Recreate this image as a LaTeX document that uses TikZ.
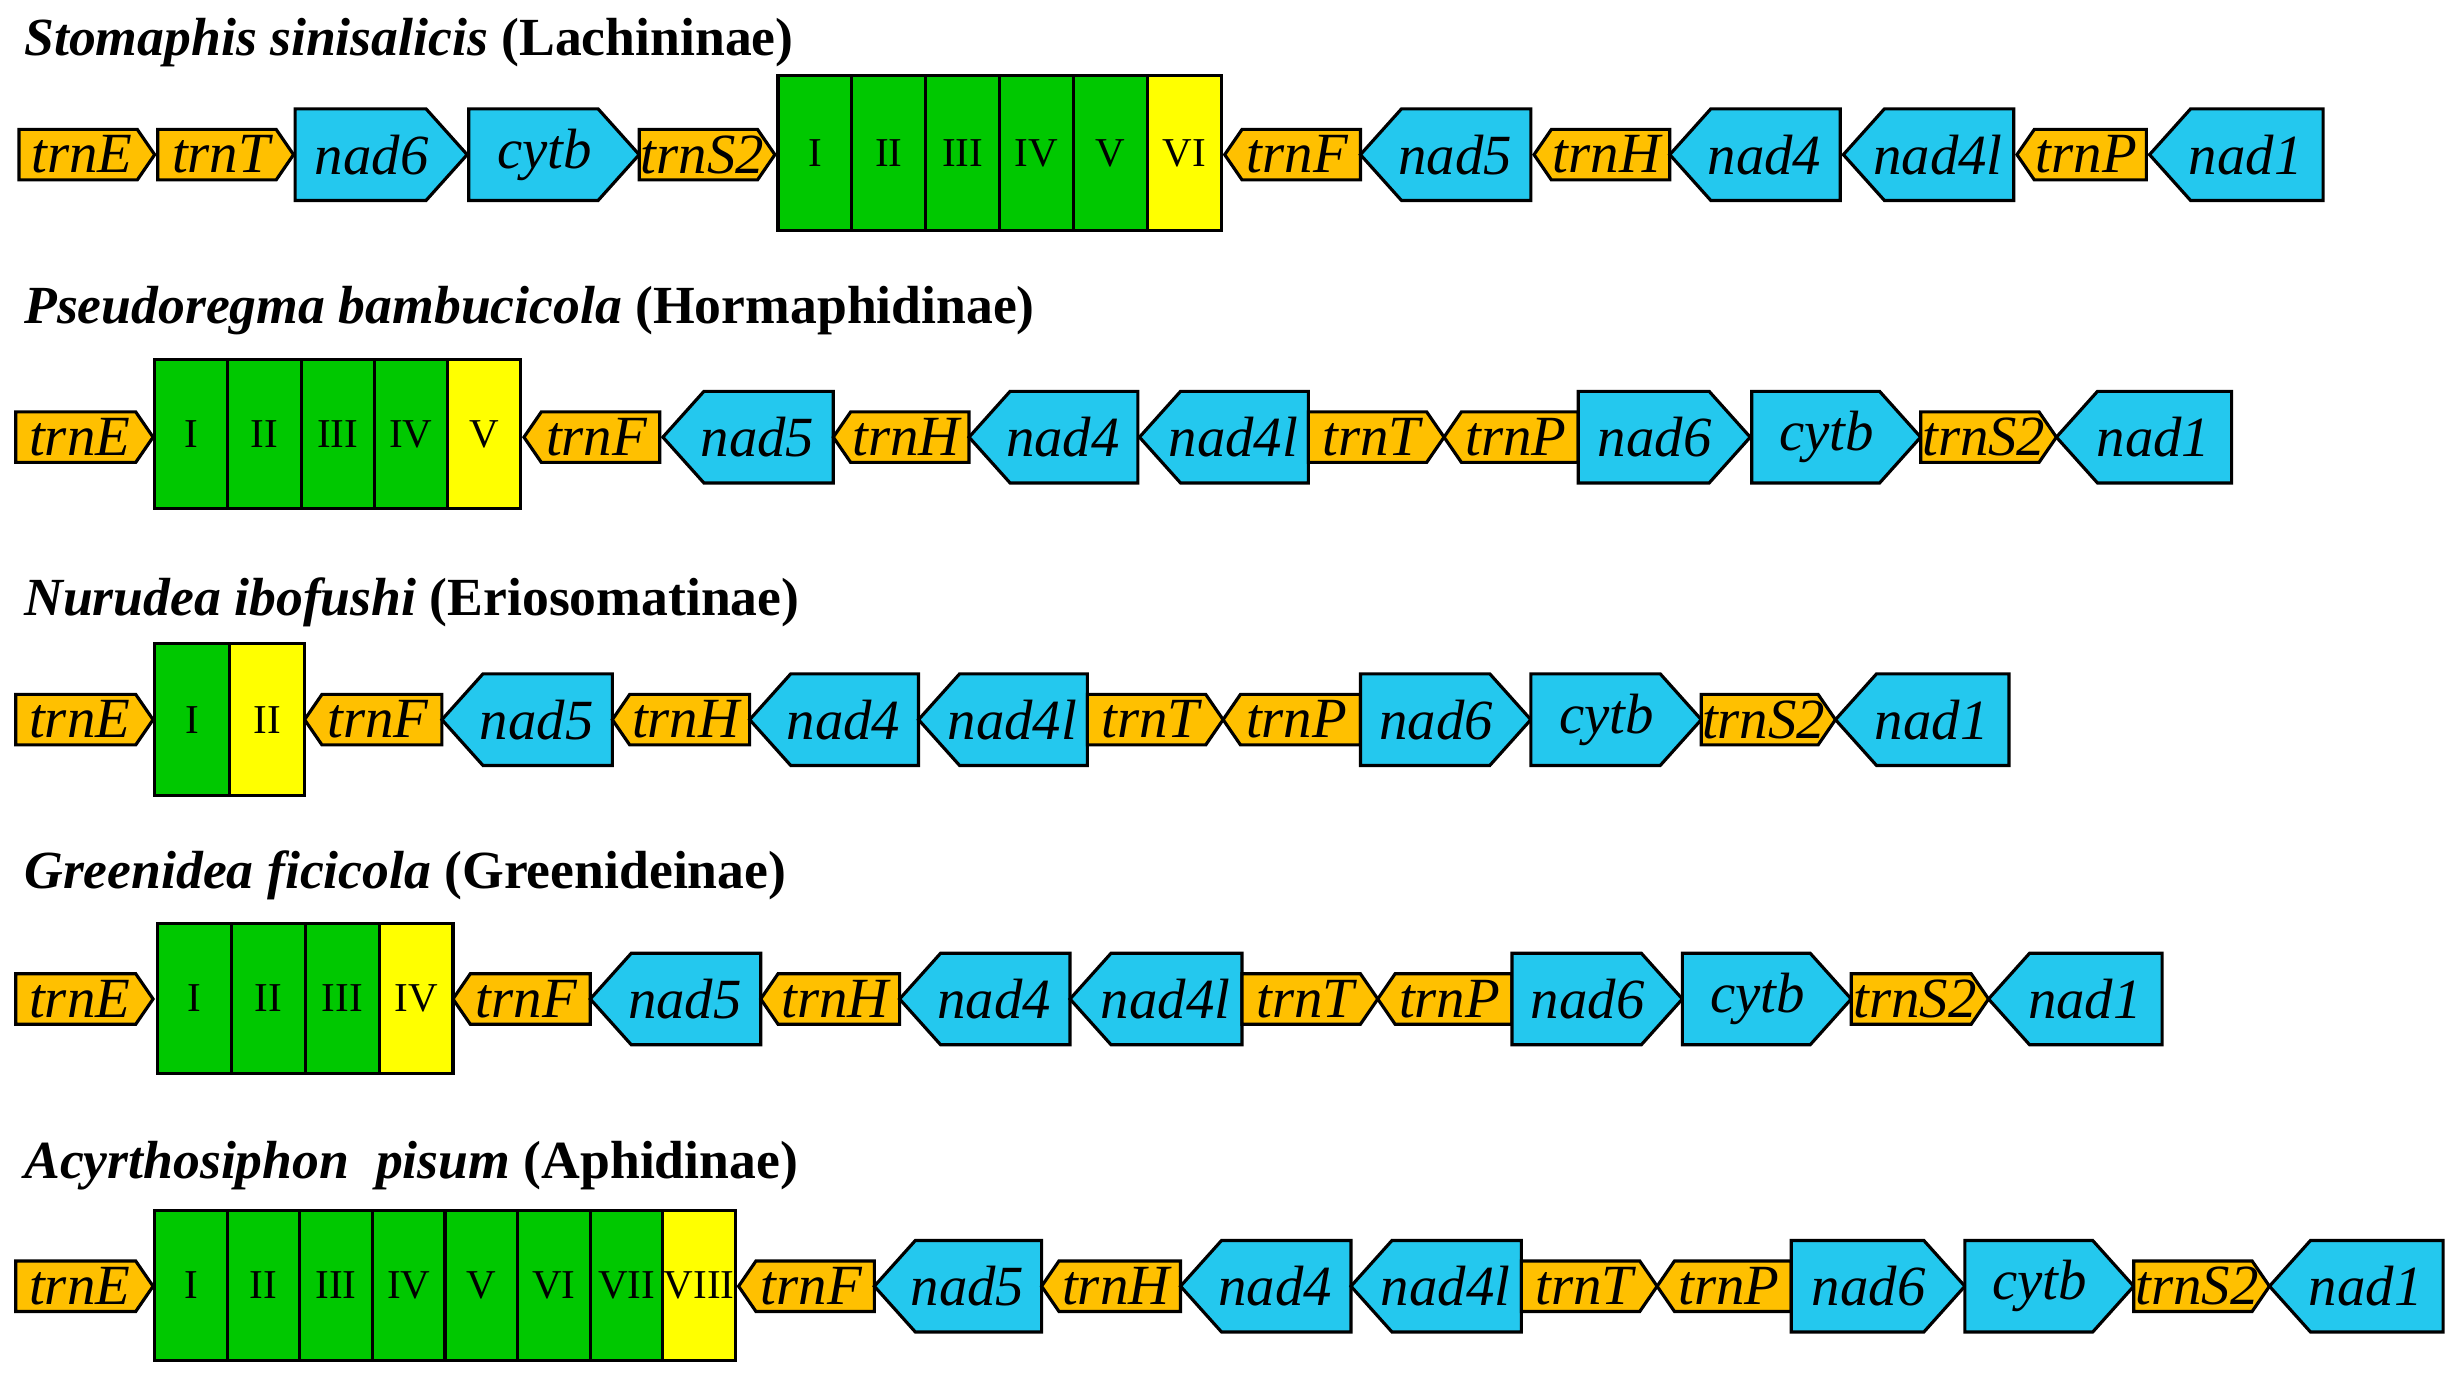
\documentclass[tikz,border=0pt]{standalone}
\usepackage{fontspec}
\setmainfont{Liberation Serif}
\usepackage{tikz}

\definecolor{trnorange}{RGB}{255,192,0}
\definecolor{pcgblue}{RGB}{36,200,238}
\definecolor{cagreen}{RGB}{0,200,0}
\definecolor{cayellow}{RGB}{255,255,0}

\tikzset{
  trna/.style={draw=black, line width=1pt, fill=trnorange},
  pcg/.style={draw=black, line width=1pt, fill=pcgblue},
  rep/.style={draw=black, line width=1pt},
  glab/.style={inner sep=0pt, font=\fontsize{18}{18}\selectfont\itshape},
  rlab/.style={inner sep=0pt, font=\fontsize{13}{13}\selectfont},
  title/.style={anchor=base west, inner sep=0pt, font=\fontsize{17}{17}\selectfont\bfseries}
}

% gene macros: name, x0, x1, y, label
\newcommand{\geneTR}[5]{%
  \draw[trna] (#2,#4-16) -- (#3-11,#4-16) -- (#3,#4) -- (#3-11,#4+16) -- (#2,#4+16) -- cycle;
  \node[glab] (#1) at ({(#2+#3)/2-3},#4) {#5};}
\newcommand{\geneTL}[5]{%
  \draw[trna] (#3,#4-16) -- (#2+11,#4-16) -- (#2,#4) -- (#2+11,#4+16) -- (#3,#4+16) -- cycle;
  \node[glab] (#1) at ({(#2+#3)/2+3},#4) {#5};}
\newcommand{\genePR}[5]{%
  \draw[pcg] (#2,#4-29) -- (#3-26,#4-29) -- (#3,#4) -- (#3-26,#4+29) -- (#2,#4+29) -- cycle;
  \node[glab] (#1) at ({(#2+#3)/2-6},#4) {#5};}
\newcommand{\genePL}[5]{%
  \draw[pcg] (#3,#4-29) -- (#2+26,#4-29) -- (#2,#4) -- (#2+26,#4+29) -- (#3,#4+29) -- cycle;
  \node[glab] (#1) at ({(#2+#3)/2+6},#4) {#5};}
% repeat block: prefix, x0, cell width, y top, y bottom, number of green cells, numerals
\newcommand{\repblock}[7]{%
  \foreach \r [count=\i] in {#7} {
    \pgfmathsetmacro{\xa}{#2+(\i-1)*#3}
    \pgfmathsetmacro{\xb}{#2+\i*#3}
    \ifnum\i>#6 \def\cc{cayellow}\else\def\cc{cagreen}\fi
    \draw[rep, fill=\cc] (\xa,#4) rectangle (\xb,#5);
    \node[rlab] (#1-\i) at ({(\xa+\xb)/2},{(#4+#5)/2}) {\r};
  }}

\begin{document}
\begin{tikzpicture}[x={0.5pt}, y={-0.5pt}]
  \useasboundingbox (0,0) rectangle (1560,871);

  % Stomaphis
  \node[title] (t1) at (15,35) {\textit{Stomaphis sinisalicis} (Lachininae)};
  \foreach \n/\a/\b/\f/\t in {e/12/98/TR/trnE, t/100/186/TR/trnT, n6/187/296/PR/nad6,
      cb/297/405/PR/cytb, s2/405/491/TR/trnS2, f/776/862/TL/trnF, n5/862/970/PL/nad5,
      h/972/1058/TL/trnH, n4/1058/1166/PL/nad4, n4l/1168/1276/PL/nad4l,
      p/1278/1360/TL/trnP, n1/1362/1472/PL/nad1}
    {\csname gene\f\endcsname{r1-\n}{\a}{\b}{98}{\t}}
  \repblock{r1-cr}{493}{46.8}{48}{146}{5}{I,II,III,IV,V,VI}

  % Pseudoregma
  \node[title] (t2) at (15,205) {\textit{Pseudoregma bambucicola} (Hormaphidinae)};
  \foreach \n/\a/\b/\f/\t in {e/10/97/TR/trnE, f/332/418/TL/trnF, n5/420/528/PL/nad5,
      h/528/614/TL/trnH, n4/614/721/PL/nad4, n4l/722/829/PL/nad4l, t/829/915/TR/trnT,
      p/915/1000/TL/trnP, n6/1000/1109/PR/nad6, cb/1110/1217/PR/cytb,
      s2/1217/1303/TR/trnS2, n1/1303/1414/PL/nad1}
    {\csname gene\f\endcsname{r2-\n}{\a}{\b}{277}{\t}}
  \repblock{r2-cr}{98}{46.4}{228}{322}{4}{I,II,III,IV,V}

  % Nurudea
  \node[title] (t3) at (15,390) {\textit{Nurudea ibofushi} (Eriosomatinae)};
  \foreach \n/\a/\b/\f/\t in {e/10/97/TR/trnE, f/193/280/TL/trnF, n5/280/388/PL/nad5,
      h/388/475/TL/trnH, n4/475/582/PL/nad4, n4l/582/689/PL/nad4l, t/689/775/TR/trnT,
      p/775/862/TL/trnP, n6/862/970/PR/nad6, cb/970/1078/PR/cytb,
      s2/1078/1163/TR/trnS2, n1/1163/1273/PL/nad1}
    {\csname gene\f\endcsname{r3-\n}{\a}{\b}{456}{\t}}
  \repblock{r3-cr}{98}{47.5}{408}{504}{1}{I,II}

  % Greenidea
  \node[title] (t4) at (15,563) {\textit{Greenidea ficicola} (Greenideinae)};
  \foreach \n/\a/\b/\f/\t in {e/10/97/TR/trnE, f/287/374/TL/trnF, n5/374/482/PL/nad5,
      h/482/570/TL/trnH, n4/570/678/PL/nad4, n4l/678/787/PL/nad4l, t/787/873/TR/trnT,
      p/873/958/TL/trnP, n6/958/1066/PR/nad6, cb/1066/1173/PR/cytb,
      s2/1173/1260/TR/trnS2, n1/1260/1370/PL/nad1}
    {\csname gene\f\endcsname{r4-\n}{\a}{\b}{633}{\t}}
  \repblock{r4-cr}{100}{46.75}{585}{680}{3}{I,II,III,IV}

  % Acyrthosiphon
  \node[title] (t5) at (15,747) {\textit{Acyrthosiphon\ \ pisum} (Aphidinae)};
  \foreach \n/\a/\b/\f/\t in {e/10/97/TR/trnE, f/468/554/TL/trnF, n5/554/660/PL/nad5,
      h/660/748/TL/trnH, n4/748/856/PL/nad4, n4l/856/964/PL/nad4l, t/964/1050/TR/trnT,
      p/1050/1135/TL/trnP, n6/1135/1245/PR/nad6, cb/1245/1352/PR/cytb,
      s2/1352/1438/TR/trnS2, n1/1438/1548/PL/nad1}
    {\csname gene\f\endcsname{r5-\n}{\a}{\b}{815}{\t}}
  \repblock{r5-cr}{98}{46}{767}{862}{7}{I,II,III,IV,V,VI,VII,VIII}
\end{tikzpicture}
\end{document}
